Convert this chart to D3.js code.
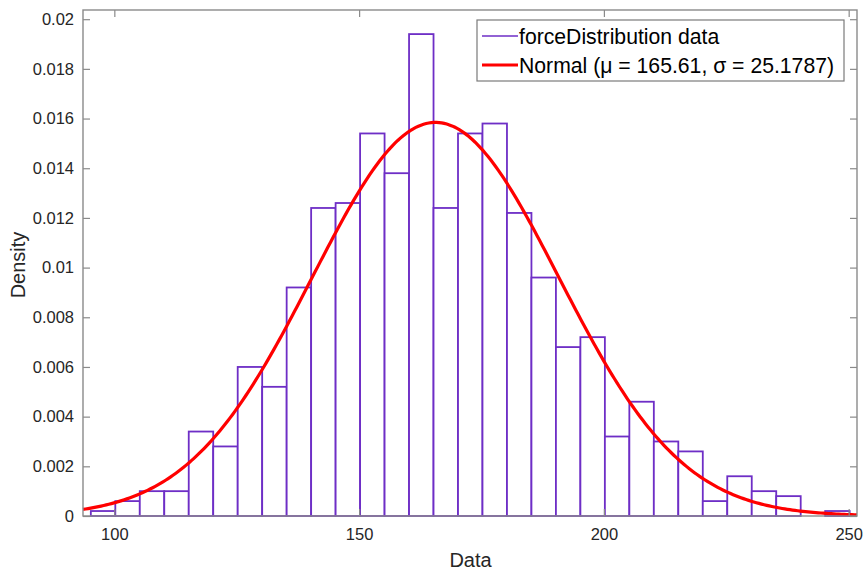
<!DOCTYPE html>
<html>
<head>
<meta charset="utf-8">
<script src="https://cdn.jsdelivr.net/npm/d3@7"></script>
<style>
  html, body { margin: 0; padding: 0; background: #fff; }
  svg { display: block; font-family: "Liberation Sans", Arial, sans-serif; }
</style>
</head>
<body>
<svg id="chart" width="864" height="572"></svg>
<script>
// ---- data ----
const binStart = 95.2;
const binWidth = 5.0;
const densities = [
  0.0002, 0.0006, 0.0010, 0.0010, 0.0034, 0.0028, 0.0060, 0.0052,
  0.0092, 0.0124, 0.0126, 0.0154, 0.0138, 0.0194, 0.0124, 0.0154,
  0.0158, 0.0122, 0.0096, 0.0068, 0.0072, 0.0032, 0.0046, 0.0030,
  0.0026, 0.0006, 0.0016, 0.0010, 0.0008, 0.0000, 0.0002
];
const mu = 165.61;
const sigma = 25.1787;
const xTicks = [100, 150, 200, 250];
const yTicks = [0, 0.002, 0.004, 0.006, 0.008, 0.01, 0.012, 0.014, 0.016, 0.018, 0.02];
const yTickLabels = ["0", "0.002", "0.004", "0.006", "0.008", "0.01", "0.012", "0.014", "0.016", "0.018", "0.02"];
const legendLabels = ["forceDistribution data", "Normal (\u03bc = 165.61, \u03c3 = 25.1787)"];
const xLabel = "Data";
const yLabel = "Density";

// ---- layout ----
const L = 83, T = 10, R = 857, B = 516;
const svg = d3.select("#chart");
const x = d3.scaleLinear().domain([93.6, 251.7]).range([L, R]);
const y = d3.scaleLinear().domain([0, 0.02037]).range([B, T]);
const purple = "#6e2ec6";
const axisColor = "#8a8a8a";
const textColor = "#262626";

// bars
svg.append("g").selectAll("rect").data(densities).join("rect")
  .attr("x", (d, i) => x(binStart + i * binWidth))
  .attr("y", d => y(d))
  .attr("width", (d, i) => x(binStart + (i + 1) * binWidth) - x(binStart + i * binWidth))
  .attr("height", d => B - y(d))
  .attr("fill", "#fff")
  .attr("stroke", purple)
  .attr("stroke-width", 1.8);

// normal fit curve
const xs = d3.range(0, 301).map(i => 93.6 + i * (251.7 - 93.6) / 300);
const pdf = v => Math.exp(-0.5 * ((v - mu) / sigma) ** 2) / (sigma * Math.sqrt(2 * Math.PI));
svg.append("path")
  .datum(xs)
  .attr("d", d3.line().x(v => x(v)).y(v => y(pdf(v))))
  .attr("fill", "none")
  .attr("stroke", "#ff0000")
  .attr("stroke-width", 3.2);

// axes (ticks inward on all sides)
const tickLen = 7;
const gx = svg.append("g").attr("transform", `translate(0,${B})`)
  .call(d3.axisBottom(x).tickValues(xTicks).tickSize(-tickLen).tickPadding(12).tickFormat(d3.format("d")));
const gxTop = svg.append("g").attr("transform", `translate(0,${T})`)
  .call(d3.axisTop(x).tickValues(xTicks).tickSize(-tickLen).tickFormat(""));
const gy = svg.append("g").attr("transform", `translate(${L},0)`)
  .call(d3.axisLeft(y).tickValues(yTicks).tickSize(-tickLen).tickPadding(9).tickFormat((d, i) => yTickLabels[i]));
const gyR = svg.append("g").attr("transform", `translate(${R},0)`)
  .call(d3.axisRight(y).tickValues(yTicks).tickSize(-tickLen).tickFormat(""));
[gx, gxTop, gy, gyR].forEach(g => {
  g.select(".domain").remove();
  g.selectAll(".tick line").attr("stroke", axisColor).attr("stroke-width", 1.2);
  g.selectAll(".tick text").attr("fill", textColor).style("font-size", "16.5px")
    .style("font-family", "'Liberation Sans', Arial, sans-serif");
});
svg.append("rect").attr("x", L).attr("y", T).attr("width", R - L).attr("height", B - T)
  .attr("fill", "none").attr("stroke", axisColor).attr("stroke-width", 1.4);

// axis labels
svg.append("text").attr("x", (L + R) / 2 + 0.5).attr("y", 567)
  .attr("text-anchor", "middle").attr("fill", textColor).style("font-size", "20px").text(xLabel);
svg.append("text").attr("transform", `translate(25,${(T + B) / 2 + 2}) rotate(-90)`)
  .attr("text-anchor", "middle").attr("fill", textColor).style("font-size", "20px").text(yLabel);

// legend
const lg = svg.append("g");
lg.append("rect").attr("x", 477).attr("y", 20).attr("width", 367).attr("height", 61)
  .attr("fill", "#fff").attr("stroke", "#7a7a7a").attr("stroke-width", 1.2);
const legendColors = [purple, "#ff0000"];
const legendWidths = [1.6, 3.2];
legendLabels.forEach((lab, i) => {
  const cy = 36 + i * 29;
  lg.append("line").attr("x1", 482).attr("x2", 518).attr("y1", cy).attr("y2", cy)
    .attr("stroke", legendColors[i]).attr("stroke-width", legendWidths[i]);
  lg.append("text").attr("x", 519).attr("y", cy + 7.5).attr("fill", "#000")
    .style("font-size", "21.2px").text(lab);
});
</script>
</body>
</html>
